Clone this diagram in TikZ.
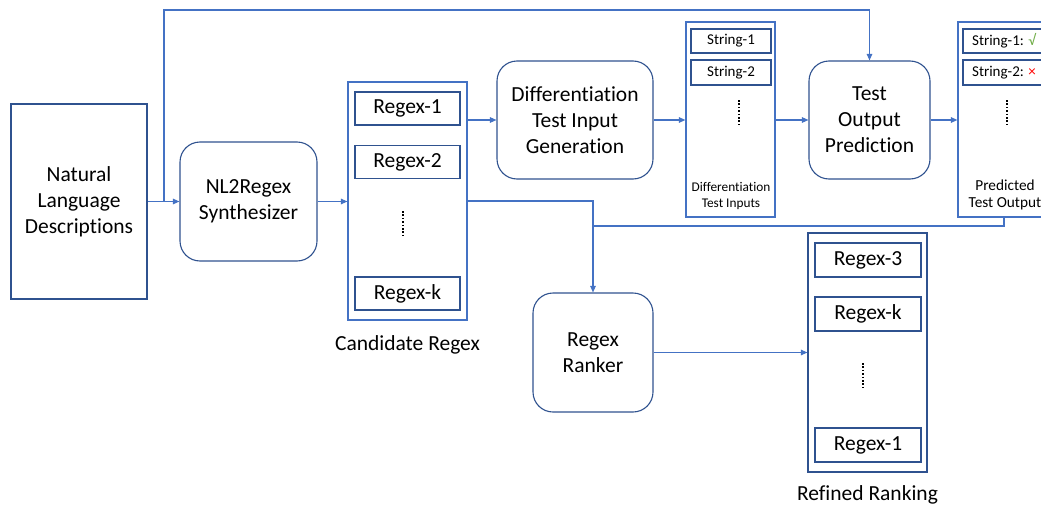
\documentclass[tikz,border=0pt]{standalone}
\usepackage{fontspec}
\setmainfont[Ligatures=NoCommon]{Carlito}
\usetikzlibrary{arrows.meta}

\definecolor{linkblue}{RGB}{68,114,196}
\definecolor{boxblue}{RGB}{47,82,143}
\definecolor{okgreen}{RGB}{112,173,71}
\definecolor{badred}{RGB}{255,0,0}

\tikzset{
  basebox/.style={draw=boxblue, line width=1.1pt, inner sep=0pt, align=center,
    font=\fontsize{21.5}{26}\selectfont},
  plainbox/.style={basebox},
  procbox/.style={basebox, rounded corners=20pt},
  listbox/.style={draw=linkblue, line width=1.2pt, inner sep=0pt},
  itembox/.style={draw=boxblue, line width=1.1pt, inner sep=0pt,
    font=\fontsize{21.5}{26}\selectfont},
  smallitem/.style={draw=boxblue, line width=1.1pt, inner sep=0pt,
    font=\fontsize{15}{18}\selectfont},
  caption/.style={inner sep=0pt, align=center, font=\fontsize{21.5}{26}\selectfont},
  smallcap/.style={inner sep=0pt, align=center},
  link/.style={draw=linkblue, line width=1.1pt},
  arrow/.style={link, -{Triangle[length=6.5pt,width=5.5pt]}},
  vdots/.style={line width=1.8pt, dash pattern=on 1.5pt off 1.9pt}
}

\begin{document}
\begin{tikzpicture}[x=1pt,y=-1pt]
  \clip (0,0) rectangle (1041,506);

  % input descriptions and synthesizer
  \node[plainbox, minimum width=136pt, minimum height=195pt] (nld) at (79,201.5)
    {Natural\\Language\\Descriptions};
  \node[procbox, minimum width=137pt, minimum height=119pt] (syn) at (248.5,201.5)
    {NL2Regex\\Synthesizer};

  % candidate regex list
  \node[listbox, minimum width=119pt, minimum height=238pt] (cand) at (407.5,201) {};
  \node[itembox, minimum width=105pt, minimum height=33pt] (c1) at (407.5,108.5) {Regex-1};
  \node[itembox, minimum width=105pt, minimum height=33pt] (c2) at (407.5,162) {Regex-2};
  \node[itembox, minimum width=105pt, minimum height=33pt] (ck) at (407.5,293.5) {Regex-k};
  \coordinate (cd1) at (403,211);
  \coordinate (cd2) at (403,238);
  \draw[vdots] (cd1) -- (cd2);
  \node[caption] (candlbl) at (407.5,345) {Candidate Regex};

  % differentiation test input generation
  \node[procbox, minimum width=156pt, minimum height=118pt] (dtig) at (575,120)
    {Differentiation\\Test Input\\Generation};

  % differentiation test inputs
  \node[listbox, minimum width=89pt, minimum height=195pt] (dti) at (730.5,119.5) {};
  \node[smallitem, minimum width=80pt, minimum height=24pt] (s1) at (731,41) {String-1};
  \node[smallitem, minimum width=80pt, minimum height=25pt] (s2) at (731,72.5) {String-2};
  \coordinate (sd1) at (739,100);
  \coordinate (sd2) at (739,127);
  \draw[vdots] (sd1) -- (sd2);
  \node[smallcap, font=\fontsize{13.3}{16}\selectfont] (dtilbl) at (731,196)
    {Differentiation\\Test Inputs};

  % test output prediction
  \node[procbox, minimum width=121pt, minimum height=118pt] (top) at (869.5,120)
    {Test\\Output\\Prediction};

  % predicted test outputs
  \node[listbox, minimum width=92pt, minimum height=195pt] (pred) at (1004,119.5) {};
  \node[smallitem, minimum width=82pt, minimum height=24pt] (p1) at (1004,41)
    {String-1: \textcolor{okgreen}{√}};
  \node[smallitem, minimum width=82pt, minimum height=25pt] (p2) at (1004,72.5)
    {String-2: \textcolor{badred}{×}};
  \coordinate (pd1) at (1007,100);
  \coordinate (pd2) at (1007,127);
  \draw[vdots] (pd1) -- (pd2);
  \node[smallcap, font=\fontsize{15.3}{17.5}\selectfont] (predlbl) at (1005,195)
    {Predicted\\Test Output};

  % ranker
  \node[procbox, minimum width=120pt, minimum height=119pt] (ranker) at (593,352.5)
    {Regex\\Ranker};

  % refined ranking list
  \node[listbox, draw=boxblue, minimum width=119pt, minimum height=239pt] (ref) at (867.5,352.5) {};
  \node[itembox, minimum width=106pt, minimum height=34pt] (r3) at (868,260) {Regex-3};
  \node[itembox, minimum width=106pt, minimum height=34pt] (rk) at (868,314) {Regex-k};
  \node[itembox, minimum width=106pt, minimum height=34pt] (r1) at (868,445) {Regex-1};
  \coordinate (rd1) at (863,363);
  \coordinate (rd2) at (863,390);
  \draw[vdots] (rd1) -- (rd2);
  \node[caption] (reflbl) at (867.5,495) {Refined Ranking};

  % connectors
  \coordinate (split) at (164,201.5);
  \coordinate (topline) at (164,10);
  \coordinate (merge) at (593,226);

  \draw[arrow] (nld.east) -- (syn.west);
  \draw[arrow] (split) -- (topline) -| (top.north);
  \draw[arrow] (syn.east) -- (cand.west |- syn.east);
  \draw[arrow] (cand.east |- dtig.west) -- (dtig.west);
  \draw[arrow] (dtig.east) -- (dti.west |- dtig.east);
  \draw[arrow] (dti.east |- top.west) -- (top.west);
  \draw[arrow] (top.east) -- (pred.west |- top.east);
  \draw[arrow] (cand.east) -| (ranker.north);
  \draw[link] (pred.south) |- (merge);
  \draw[arrow] (ranker.east) -- (ref.west |- ranker.east);
\end{tikzpicture}
\end{document}
